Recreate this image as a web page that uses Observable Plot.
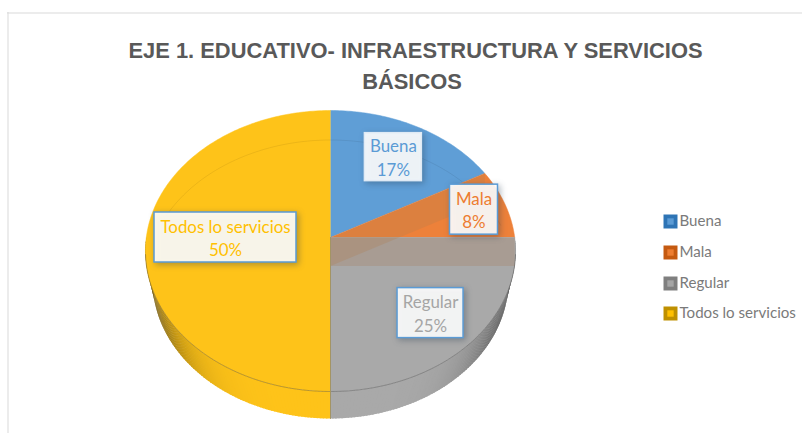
<!DOCTYPE html>
<html><head><meta charset="utf-8">
<style>html,body{margin:0;padding:0;background:#fff}svg{display:block}</style>
<script src="https://cdn.jsdelivr.net/npm/d3@7"></script>
<script src="https://cdn.jsdelivr.net/npm/@observablehq/plot@0.6"></script>
</head><body><div id="chart"></div>
<script>
// Data
const categories = ["Buena", "Mala", "Regular", "Todos lo servicios"];
const percents = [17, 8, 25, 50];
const titleLines = ["EJE 1. EDUCATIVO- INFRAESTRUCTURA Y SERVICIOS", "BÁSICOS"];

// Styles
const faceColors = ["#5f9ed6", "#ed813a", "#a9a9a9", "#fec319"];
const textColors = ["#5b9bd5", "#ed7d31", "#a5a5a5", "#ffc000"];
const swatchOuter = ["#2e74b5", "#c55a11", "#7f7f7f", "#bf9000"];
const swatchInner = ["#5b9bd5", "#ed7d31", "#a5a5a5", "#ffc000"];

// Layout
const W = 802, H = 433;
const view = {cx: 330, cy: 250.5, A: 184.2, B: 140.5, D: 13.5, k: 0.0961, back: 29.5,
              baseCy: 280, baseRx: 178, baseRy: 138};
const labelRadius = [0.71, 0.82, 0.73, 0.57];
const boxSize = [[57, 48], [48, 50], [66, 50], [142, 50]];
const boxStroke = ["#dfeaf5", "#5b9bd5", "#5b9bd5", "#5b9bd5"];
const legendRows = [221, 252, 283, 313];
const titleX = [415, 411.5], titleY = [50, 81];
const rad = d => d * Math.PI / 180;

// Perspective view of the unit disc: angle clockwise from the top, radius 0..1
function proj(deg, r = 1) {
  const s = Math.sin(rad(deg)), c = Math.cos(rad(deg)), w = 1 + view.k * r * c;
  return [view.cx + view.A * r * s / w, view.cy - (view.B * r * c + view.D) / w];
}
// The lower rim of the pie's side wall
const base = deg => [view.cx + view.baseRx * Math.sin(rad(deg)), view.baseCy - view.baseRy * Math.cos(rad(deg))];

const total = d3.sum(percents);
let acc = 0;
const slices = categories.map((name, i) => {
  const a0 = acc / total * 360; acc += percents[i]; const a1 = acc / total * 360;
  return {name, i, a0, a1, mid: (a0 + a1) / 2};
});

const arc = (a0, a1) => d3.range(a0, a1, 1).concat(a1);

// Top face polygons
const faces = slices.flatMap(s =>
  [proj(0, 0), ...arc(s.a0, s.a1).map(a => proj(a))].map(([x, y]) => ({x, y, z: s.name, fill: faceColors[s.i]})));

// Side wall, shaded towards the two ends; each piece overlaps the next to hide seams
const wallRows = slices.flatMap(s => {
  const rows = [];
  for (let a = Math.max(s.a0, 90); a < Math.min(s.a1, 270); a += 1) {
    const b = Math.min(a + 1.5, s.a1);
    const [x0, y0] = proj(a), [x1, y1] = proj(b), [x2, y2] = base(b), [x3, y3] = base(a);
    const shade = 1 - 0.62 * Math.pow(Math.abs(Math.sin(rad(a + 0.5))), 5);
    const fill = d3.interpolateRgb("#000", faceColors[s.i])(shade);
    const z = s.name + a;
    rows.push({x: x0, y: y0, z, fill}, {x: x1, y: y1, z, fill}, {x: x2, y: y2, z, fill}, {x: x3, y: y3, z, fill});
  }
  return rows;
});

// Translucent radial walls seen through the top face
const radialWall = (deg, id) => {
  const [ax, ay] = proj(0, 0), [rx, ry] = proj(deg);
  return [[ax, ay], [rx, ry], [rx, ry + view.back - 1], [ax, ay + view.back - 1]].map(([x, y]) => ({x, y, z: id}));
};
const bandWall = radialWall(slices[1].a1, "band");
const edgeWall = radialWall(slices[0].a1, "edge");
const backRim = arc(-72, 72).map(a => { const [x, y] = proj(a); return {x, y: y + view.back}; });
const frontRim = arc(97, 263).map(a => { const [x, y] = proj(a); return {x, y}; });
const centreLine = [proj(0, 0), proj(180), base(180)].map(([x, y]) => ({x, y}));

// Labels
const labels = slices.map(s => {
  const [x, y] = proj(s.mid, labelRadius[s.i]);
  const [w, h] = boxSize[s.i];
  return {x, y, x1: x - w / 2, x2: x + w / 2, y1: y - h / 2, y2: y + h / 2,
          text: `${s.name}\n${percents[s.i]}%`, color: textColors[s.i], stroke: boxStroke[s.i]};
});

const legend = categories.map((name, i) => ({name, i, y: legendRows[i]}));

const plot = Plot.plot({
  width: W, height: H, margin: 0,
  style: {background: "#fff"},
  x: {domain: [0, W], range: [0, W], axis: null},
  y: {domain: [0, H], range: [0, H], axis: null},
  color: {type: "identity"},
  marks: [
    // frame
    Plot.ruleX([7.5], {y1: 12, y2: H, stroke: "#d9d9d9", strokeWidth: 1}),
    Plot.ruleY([12.5], {x1: 7, x2: W, stroke: "#d9d9d9", strokeWidth: 1}),
    // title
    Plot.text(titleLines, {x: (d, i) => titleX[i], y: (d, i) => titleY[i], text: d => d, fontFamily: "Liberation Sans", fontWeight: "bold", fontSize: 21.9, fill: "#595959"}),
    // pie
    Plot.line(wallRows, {x: "x", y: "y", z: "z", fill: "fill", stroke: "none"}),
    Plot.line(faces, {x: "x", y: "y", z: "z", fill: "fill", stroke: "fill", strokeWidth: 0.5}),
    Plot.line(backRim, {x: "x", y: "y", stroke: "#000", strokeOpacity: 0.07, strokeWidth: 1}),
    Plot.line(bandWall, {x: "x", y: "y", z: "z", fill: "#a89c93", stroke: "none"}),
    Plot.line(edgeWall, {x: "x", y: "y", z: "z", fill: "#b07d4e", fillOpacity: 0.28, stroke: "none"}),
    Plot.line(frontRim, {x: "x", y: "y", stroke: "#3a3a3a", strokeOpacity: 0.45, strokeWidth: 0.8}),
    Plot.line(centreLine, {x: "x", y: "y", stroke: "#a39464", strokeWidth: 1}),
    // data labels
    Plot.rect(labels, {x1: "x1", x2: "x2", y1: "y1", y2: "y2", fill: "#fff", fillOpacity: 0.9, stroke: "stroke", strokeWidth: 1.5, imageFilter: "drop-shadow(2px 2px 3px rgba(40,60,80,.4))"}),
    Plot.text(labels, {x: "x", y: d => d.y - 0.5, text: "text", fill: "color", fontFamily: "Lato", fontSize: 16.9, lineHeight: 1.37}),
    // legend
    Plot.dot(legend, {x: 670, y: "y", symbol: "square", r: 7.9, fill: d => swatchOuter[d.i], stroke: "none"}),
    Plot.dot(legend, {x: 670, y: "y", symbol: "square", r: 3.6, fill: d => swatchInner[d.i], stroke: "none"}),
    Plot.text(legend, {x: 679, y: "y", text: "name", textAnchor: "start", fontFamily: "Lato", fontSize: 15.1, fill: "#7a7a7a"})
  ]
});
document.getElementById("chart").appendChild(plot);
</script></body></html>
